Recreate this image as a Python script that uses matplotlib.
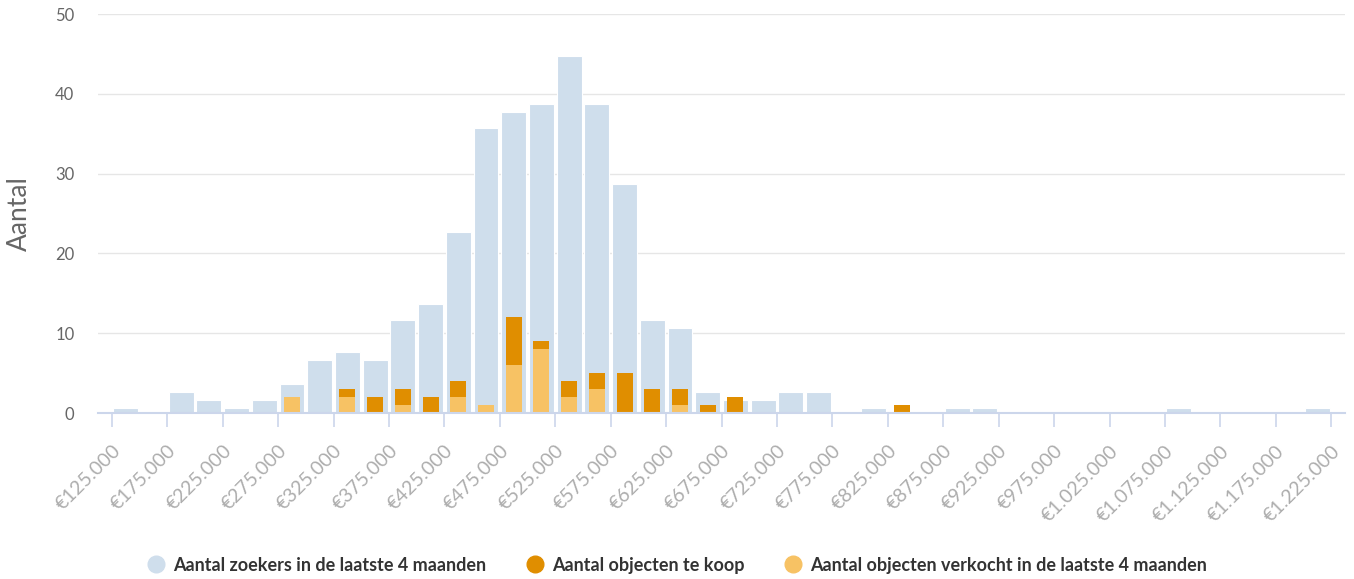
import matplotlib.pyplot as plt
from matplotlib.lines import Line2D

plt.rcParams['font.family'] = ['Lato', 'DejaVu Sans']

# price bins (thousands of euro), left edges, 25k wide
bin_start = list(range(125, 1225, 25))

zoekers = [1, 0, 3, 2, 1, 2, 4, 7, 8, 7, 12, 14, 23, 36, 38, 39, 45, 39, 29, 12, 11, 3,
           2, 2, 3, 3, 0, 1, 0, 0, 1, 1, 0, 0, 0, 0, 0, 0, 1, 0, 0, 0, 0, 1]
te_koop = [0, 0, 0, 0, 0, 0, 0, 0, 1, 2, 2, 2, 2, 0, 6, 1, 2, 2, 5, 3, 2, 1,
           2, 0, 0, 0, 0, 0, 1, 0, 0, 0, 0, 0, 0, 0, 0, 0, 0, 0, 0, 0, 0, 0]
verkocht = [0, 0, 0, 0, 0, 0, 2, 0, 2, 0, 1, 0, 2, 1, 6, 8, 2, 3, 0, 0, 1, 0,
            0, 0, 0, 0, 0, 0, 0, 0, 0, 0, 0, 0, 0, 0, 0, 0, 0, 0, 0, 0, 0, 0]

tick_vals = list(range(125, 1226, 50))
tick_labels = ["€" + f"{v * 1000:,}".replace(",", ".") for v in tick_vals]

blue = "#cfdeec"
dark = "#e08e00"
light = "#f7c264"

centers = [b + 12.5 for b in bin_start]

fig = plt.figure(figsize=(13.54, 5.79), dpi=100)
ax = fig.add_axes([0.0724, 0.2867, 0.9934 - 0.0724, 0.9758 - 0.2867])

ax.set_xlim(112.5, 1237.5)
ax.set_ylim(0, 50)
ax.set_yticks(range(0, 51, 10))
ax.yaxis.grid(True, color="#e6e6e6", linewidth=1)
ax.set_axisbelow(True)
ax.tick_params(axis="y", length=0, pad=17, labelsize=12, labelcolor="#666666")
ax.set_xticks(tick_vals)
ax.set_xticklabels(tick_labels, rotation=45, ha="right", va="top", rotation_mode="anchor",
                   color="#adadad", fontsize=14)
ax.tick_params(axis="x", length=10, width=1.2, color="#ccd6eb", pad=11)
for s in ax.spines.values():
    s.set_visible(False)
ax.set_ylabel("Aantal", fontsize=19, color="#666666", labelpad=17)

# zoekers on their own (hidden) axis
ax_b = ax.twinx()
ax_b.set_ylim(0.375, 50.25)
ax_b.bar(centers, zoekers, width=22.5, color=blue, edgecolor="white", linewidth=0.8)
ax_b.yaxis.set_visible(False)
for s in ax_b.spines.values():
    s.set_visible(False)

ax_o = ax.twinx()
ax_o.set_ylim(0, 50)
ax_o.bar(centers, verkocht, width=14.5, color=light)
ax_o.bar(centers, te_koop, width=14.5, bottom=verkocht, color=dark)
ax_o.yaxis.set_visible(False)
for k, s in ax_o.spines.items():
    s.set_visible(k == "bottom")
ax_o.spines["bottom"].set_color("#ccd6eb")
ax_o.spines["bottom"].set_linewidth(1.5)

handles = [
    Line2D([], [], marker="o", linestyle="", markersize=12, color=blue),
    Line2D([], [], marker="o", linestyle="", markersize=12, color=dark),
    Line2D([], [], marker="o", linestyle="", markersize=12, color=light),
]
labels = ["Aantal zoekers in de laatste 4 maanden", "Aantal objecten te koop",
          "Aantal objecten verkocht in de laatste 4 maanden"]
leg = fig.legend(handles, labels, loc="center", bbox_to_anchor=(0.5, 0.024), ncol=3,
                 frameon=False, handlelength=1.0, handletextpad=0.45, columnspacing=2.2,
                 prop={"weight": "bold", "size": 13})
for t in leg.get_texts():
    t.set_color("#333333")

fig.savefig("out.png", dpi=100)
